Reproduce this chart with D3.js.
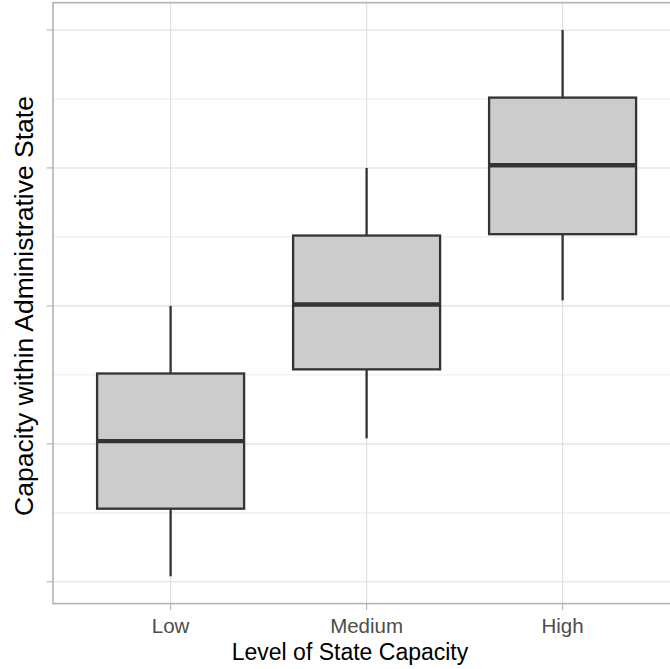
<!DOCTYPE html>
<html>
<head>
<meta charset="utf-8">
<script src="https://cdn.jsdelivr.net/npm/d3@7"></script>
<style>
    body {margin: 0; background: #fff;}
    svg {display: block; font-family: "Liberation Sans", Arial, Helvetica, sans-serif;}
    .grid-major {stroke: #dedede; stroke-width: 1.1;}
    .grid-minor {stroke: #e6e6e6; stroke-width: 0.8;}
    .tick-mark {stroke: #b3b3b3; stroke-width: 1.1;}
    .tick-label {fill: #4d4d4d; font-size: 20.5px;}
    .axis-title {fill: #000; font-size: 23px;}
    .y-title {font-size: 26.5px;}
    .box {fill: #cccccc; stroke: #333333; stroke-width: 2.3;}
    .whisker {stroke: #333333; stroke-width: 2.3;}
    .median {stroke: #333333; stroke-width: 4.4;}
</style>
</head>
<body>
<div id="chart"></div>
<script>
    let categories = ["Low", "Medium", "High"];
    let whiskerLow = [1.04, 2.04, 3.04];
    let lowerQuartile = [1.53, 2.54, 3.52];
    let medians = [2.02, 3.01, 4.02];
    let upperQuartile = [2.51, 3.51, 4.51];
    let whiskerHigh = [3.0, 4.0, 5.0];
    let majorTicks = [1, 2, 3, 4, 5];
    let minorTicks = [1.5, 2.5, 3.5, 4.5];

    let boxes = categories.map(function(c, i) {
        return {cat: c, lo: whiskerLow[i], q1: lowerQuartile[i], med: medians[i], q3: upperQuartile[i], hi: whiskerHigh[i]};
    });

    let width = 670, height = 669;
    let margin = {top: 2.7, left: 53, bottom: 65.4};
    let panelW = 627.2,
        panelH = height - margin.top - margin.bottom;

    let yMin = d3.min(whiskerLow), yMax = d3.max(whiskerHigh);
    let pad = (yMax - yMin) * 0.05;

    let x = d3.scalePoint()
        .domain(categories)
        .range([0, panelW])
        .padding(0.6);

    let y = d3.scaleLinear()
        .domain([yMin - pad, yMax + pad])
        .range([panelH, 0]);

    let boxW = x.step() * 0.75;

    let svg = d3.select("#chart").append("svg")
        .attr("width", width)
        .attr("height", height);

    let g = svg.append("g")
        .attr("transform", "translate(" + margin.left + "," + margin.top + ")");

    // grid
    g.selectAll(".grid-minor")
        .data(minorTicks)
        .enter().append("line")
        .attr("class", "grid-minor")
        .attr("x1", 0).attr("x2", panelW)
        .attr("y1", d => y(d)).attr("y2", d => y(d));

    g.selectAll(".grid-major.h")
        .data(majorTicks)
        .enter().append("line")
        .attr("class", "grid-major h")
        .attr("x1", 0).attr("x2", panelW)
        .attr("y1", d => y(d)).attr("y2", d => y(d));

    g.selectAll(".grid-major.v")
        .data(categories)
        .enter().append("line")
        .attr("class", "grid-major v")
        .attr("y1", 0).attr("y2", panelH)
        .attr("x1", d => x(d)).attr("x2", d => x(d));

    // boxplots
    let bx = g.selectAll(".bp")
        .data(boxes)
        .enter().append("g")
        .attr("class", "bp");

    bx.append("line")
        .attr("class", "whisker")
        .attr("x1", d => x(d.cat)).attr("x2", d => x(d.cat))
        .attr("y1", d => y(d.q3)).attr("y2", d => y(d.hi));

    bx.append("line")
        .attr("class", "whisker")
        .attr("x1", d => x(d.cat)).attr("x2", d => x(d.cat))
        .attr("y1", d => y(d.q1)).attr("y2", d => y(d.lo));

    bx.append("rect")
        .attr("class", "box")
        .attr("x", d => x(d.cat) - boxW / 2)
        .attr("width", boxW)
        .attr("y", d => y(d.q3))
        .attr("height", d => y(d.q1) - y(d.q3));

    bx.append("line")
        .attr("class", "median")
        .attr("x1", d => x(d.cat) - boxW / 2).attr("x2", d => x(d.cat) + boxW / 2)
        .attr("y1", d => y(d.med)).attr("y2", d => y(d.med));

    // panel border
    g.append("rect")
        .attr("x", 0).attr("y", 0)
        .attr("width", panelW).attr("height", panelH)
        .style("fill", "none")
        .style("stroke", "#b3b3b3")
        .style("stroke-width", 1.6);

    // ticks
    g.selectAll(".ytick")
        .data(majorTicks)
        .enter().append("line")
        .attr("class", "tick-mark")
        .attr("x1", -6.5).attr("x2", 0)
        .attr("y1", d => y(d)).attr("y2", d => y(d));

    g.selectAll(".xtick")
        .data(categories)
        .enter().append("line")
        .attr("class", "tick-mark")
        .attr("y1", panelH).attr("y2", panelH + 6.5)
        .attr("x1", d => x(d)).attr("x2", d => x(d));

    g.selectAll(".tick-label")
        .data(categories)
        .enter().append("text")
        .attr("class", "tick-label")
        .attr("x", d => x(d))
        .attr("y", panelH + 29.5)
        .attr("text-anchor", "middle")
        .text(d => d);

    // titles
    svg.append("text")
        .attr("class", "axis-title")
        .attr("x", 350)
        .attr("y", 660)
        .attr("text-anchor", "middle")
        .text("Level of State Capacity");

    svg.append("text")
        .attr("class", "axis-title y-title")
        .attr("transform", "translate(32.5,306) rotate(-90)")
        .attr("text-anchor", "middle")
        .text("Capacity within Administrative State");
</script>
</body>
</html>
